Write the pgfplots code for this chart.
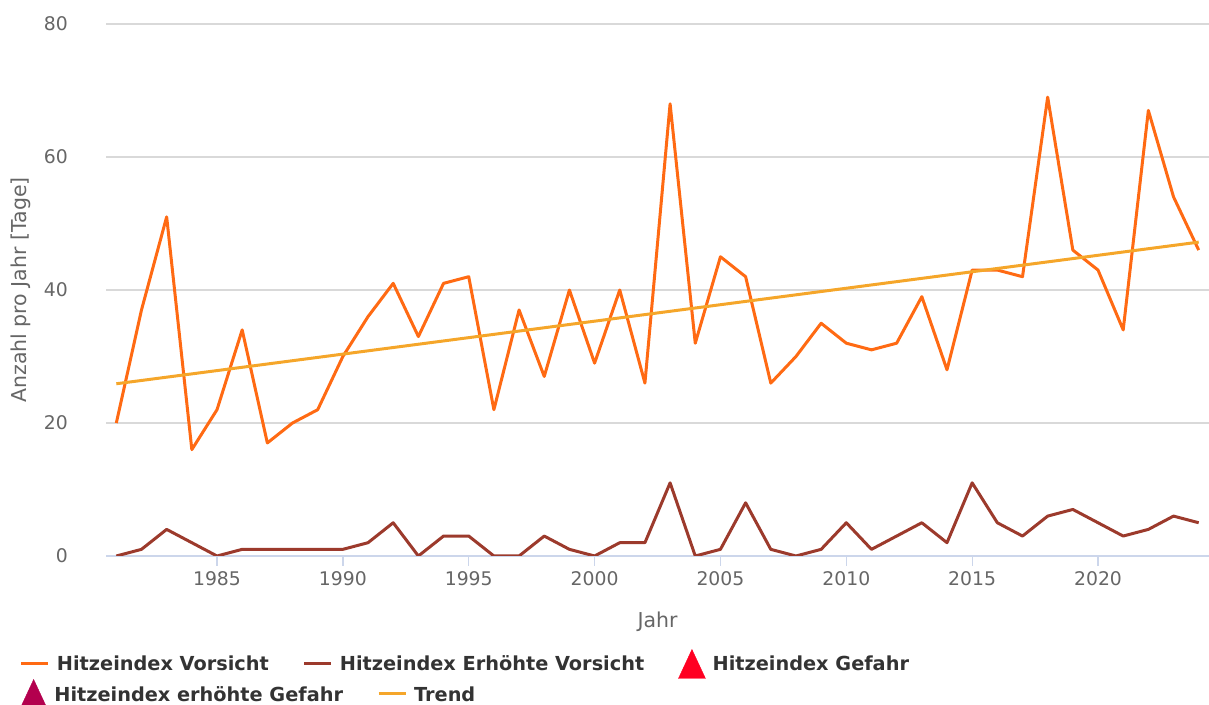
\documentclass[border=0pt]{standalone}
\usepackage{fontspec}
\setmainfont{DejaVu Sans}
\usepackage{pgfplots}
\pgfplotsset{compat=1.18}
\definecolor{vors}{HTML}{FF6A13}
\definecolor{evors}{HTML}{9C3A2C}
\definecolor{trendc}{HTML}{F5A62A}
\definecolor{gef}{HTML}{FF0022}
\definecolor{egef}{HTML}{B3004E}
\definecolor{gridc}{HTML}{D9D9D9}
\definecolor{axc}{HTML}{CCD6EB}
\definecolor{labc}{HTML}{666666}
\definecolor{legc}{HTML}{333333}
\newcommand{\tickfont}{\fontsize{18.8bp}{22bp}\selectfont}
\newcommand{\titlefont}{\fontsize{20.5bp}{24bp}\selectfont}
\newcommand{\legfont}{\fontsize{19.3bp}{23bp}\selectfont\bfseries}
\pgfplotsset{
  lineleg/.style={legend image code/.code={\draw[##1] (0bp,7bp) -- (27bp,7bp);}},
  triLeg/.style={legend image code/.code={\fill[#1] (0bp,-7.5bp) -- (13.5bp,21.5bp) -- (27bp,-7.5bp) -- cycle;}},
}
\begin{document}
\begin{tikzpicture}
\useasboundingbox (0,0) rectangle (1209bp,705bp);
\begin{axis}[
  at={(106bp,149bp)}, anchor=south west,
  scale only axis, width=1103bp, height=532bp,
  xmin=1980.59, xmax=2024.41, ymin=0, ymax=80,
  axis x line*=bottom, axis y line*=left,
  y axis line style={draw=none},
  x axis line style={draw=axc, line width=1.3bp},
  xtick={1985,1990,...,2020},
  ytick={0,20,40,60,80},
  /pgf/number format/1000 sep={},
  /pgf/number format/assume math mode=true,
  tick align=outside,
  major tick length=10bp,
  xtick style={draw=axc, line width=1.3bp},
  ytick style={draw=none},
  ymajorgrids, major grid style={draw=gridc, line width=1.3bp},
  xticklabel style={font=\tickfont, text=labc, inner sep=0pt, anchor=north, yshift=-5bp},
  yticklabel style={font=\tickfont, text=labc, inner sep=0pt, anchor=east, xshift=-28bp},
  xlabel={Jahr}, ylabel={Anzahl pro Jahr [Tage]},
  xlabel style={font=\titlefont, text=labc, inner sep=0pt, anchor=center, at={(0.5,-0.1240)}},
  ylabel style={font=\titlefont, text=labc, inner sep=0pt, anchor=center, at={(-0.0770,0.5)}},
  lineleg,
  legend columns=-1,
  legend style={at={(-0.078,-0.203)}, anchor=west, draw=none, fill=none,
    inner sep=0pt, outer sep=0pt, font=\legfont, text=legc,
    nodes={inner sep=0pt, anchor=base west},
    /tikz/every odd column/.append style={column sep=7bp},
    /tikz/every even column/.append style={column sep=34bp}},
]
\addplot[vors, line width=3bp, line join=round] coordinates {
(1981,20)(1982,37)(1983,51)(1984,16)(1985,22)(1986,34)(1987,17)(1988,20)(1989,22)(1990,30)
(1991,36)(1992,41)(1993,33)(1994,41)(1995,42)(1996,22)(1997,37)(1998,27)(1999,40)(2000,29)
(2001,40)(2002,26)(2003,68)(2004,32)(2005,45)(2006,42)(2007,26)(2008,30)(2009,35)(2010,32)
(2011,31)(2012,32)(2013,39)(2014,28)(2015,43)(2016,43)(2017,42)(2018,69)(2019,46)(2020,43)
(2021,34)(2022,67)(2023,54)(2024,46)};
\addlegendentry{Hitzeindex Vorsicht}
\addplot[evors, line width=3bp, line join=round] coordinates {
(1981,0)(1982,1)(1983,4)(1984,2)(1985,0)(1986,1)(1987,1)(1988,1)(1989,1)(1990,1)
(1991,2)(1992,5)(1993,0)(1994,3)(1995,3)(1996,0)(1997,0)(1998,3)(1999,1)(2000,0)
(2001,2)(2002,2)(2003,11)(2004,0)(2005,1)(2006,8)(2007,1)(2008,0)(2009,1)(2010,5)
(2011,1)(2012,3)(2013,5)(2014,2)(2015,11)(2016,5)(2017,3)(2018,6)(2019,7)(2020,5)
(2021,3)(2022,4)(2023,6)(2024,5)};
\addlegendentry{Hitzeindex Erhöhte Vorsicht}
\addlegendimage{triLeg=gef}
\addlegendentry{Hitzeindex Gefahr}
\addplot[trendc, line width=3bp, forget plot] coordinates {(1981,25.9)(2024,47.2)};
\end{axis}
\begin{axis}[
  at={(106bp,149bp)}, anchor=south west,
  scale only axis, width=1103bp, height=532bp,
  xmin=1980.59, xmax=2024.41, ymin=0, ymax=80,
  hide axis,
  lineleg,
  legend columns=-1,
  legend style={at={(-0.078,-0.2594)}, anchor=west, draw=none, fill=none,
    inner sep=0pt, outer sep=0pt, font=\legfont, text=legc,
    nodes={inner sep=0pt, anchor=base west},
    /tikz/every odd column/.append style={column sep=7bp},
    /tikz/every even column/.append style={column sep=34bp}},
]
\addplot[draw=none, forget plot] coordinates {(2000,0)};
\addlegendimage{triLeg=egef}
\addlegendentry{Hitzeindex erhöhte Gefahr}
\addlegendimage{trendc, line width=3bp}
\addlegendentry{Trend}
\end{axis}
\end{tikzpicture}
\end{document}
